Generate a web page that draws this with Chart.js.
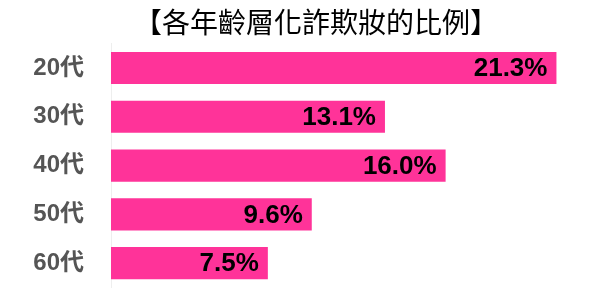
<!DOCTYPE html>
<html lang="zh-Hant">
<head>
    <meta charset="UTF-8">
    <title>各年齡層化詐欺妝的比例</title>
    <script src="https://cdn.jsdelivr.net/npm/chart.js@4.4.0/dist/chart.umd.min.js"></script>
    <style>
        html, body { margin: 0; padding: 0; background: #fff; overflow: hidden; }
    </style>
</head>
<body>
    <canvas id="myChart" width="600" height="303"></canvas>

    <script>
        // data
        var ageGroups = ['20代', '30代', '40代', '50代', '60代'];
        var percents = [21.3, 13.1, 16.0, 9.6, 7.5];
        var chartTitle = '【各年齡層化詐欺妝的比例】';

        // draws "21.3%" inside the end of every bar
        var valueLabels = {
            id: 'valueLabels',
            afterDatasetsDraw: function(chart) {
                var ctx = chart.ctx;
                var meta = chart.getDatasetMeta(0);
                ctx.save();
                ctx.font = 'bold 26px "Liberation Sans", Arial, sans-serif';
                ctx.fillStyle = '#000';
                ctx.textAlign = 'right';
                ctx.textBaseline = 'middle';
                meta.data.forEach(function(bar, i) {
                    ctx.fillText(percents[i].toFixed(1) + '%', bar.x - 9, bar.y + 1);
                });
                ctx.restore();
            }
        };

        // the title in the picture sits a bit right of the canvas centre
        var nudgeTitle = {
            id: 'nudgeTitle',
            afterLayout: function(chart) {
                if (chart.titleBlock) {
                    chart.titleBlock.left += 20;
                    chart.titleBlock.right += 20;
                }
            }
        };

        var ctx = document.getElementById('myChart').getContext('2d');
        var myChart = new Chart(ctx, {
            type: 'bar',
            data: {
                labels: ageGroups,
                datasets: [{
                    data: percents,
                    backgroundColor: '#ff3399',
                    barPercentage: 0.66,
                    categoryPercentage: 1.0
                }]
            },
            options: {
                indexAxis: 'y',
                responsive: false,
                animation: false,
                layout: {
                    padding: { top: 0, right: 8, bottom: 15.5, left: 0 }
                },
                plugins: {
                    legend: { display: false },
                    tooltip: { enabled: false },
                    title: {
                        display: true,
                        text: chartTitle,
                        color: '#000',
                        font: { family: '"Noto Sans CJK TC", sans-serif', size: 28, weight: 'normal', lineHeight: 1.2 },
                        padding: { top: 6, bottom: 4 }
                    }
                },
                scales: {
                    x: {
                        display: false,
                        min: 0,
                        max: 23
                    },
                    y: {
                        afterFit: function(scale) {
                            scale.width = 111;
                            // tick padding would otherwise eat space above/below the bars
                            scale.paddingTop = 0;
                            scale.paddingBottom = 0;
                        },
                        grid: { display: false, drawTicks: false },
                        border: { display: true, color: '#eeeeee' },
                        ticks: {
                            padding: 27,
                            color: '#555555',
                            font: { family: '"Liberation Sans", "Noto Sans CJK TC", sans-serif', size: 24, weight: 'bold' }
                        }
                    }
                }
            },
            plugins: [valueLabels, nudgeTitle]
        });
    </script>
</body>
</html>
